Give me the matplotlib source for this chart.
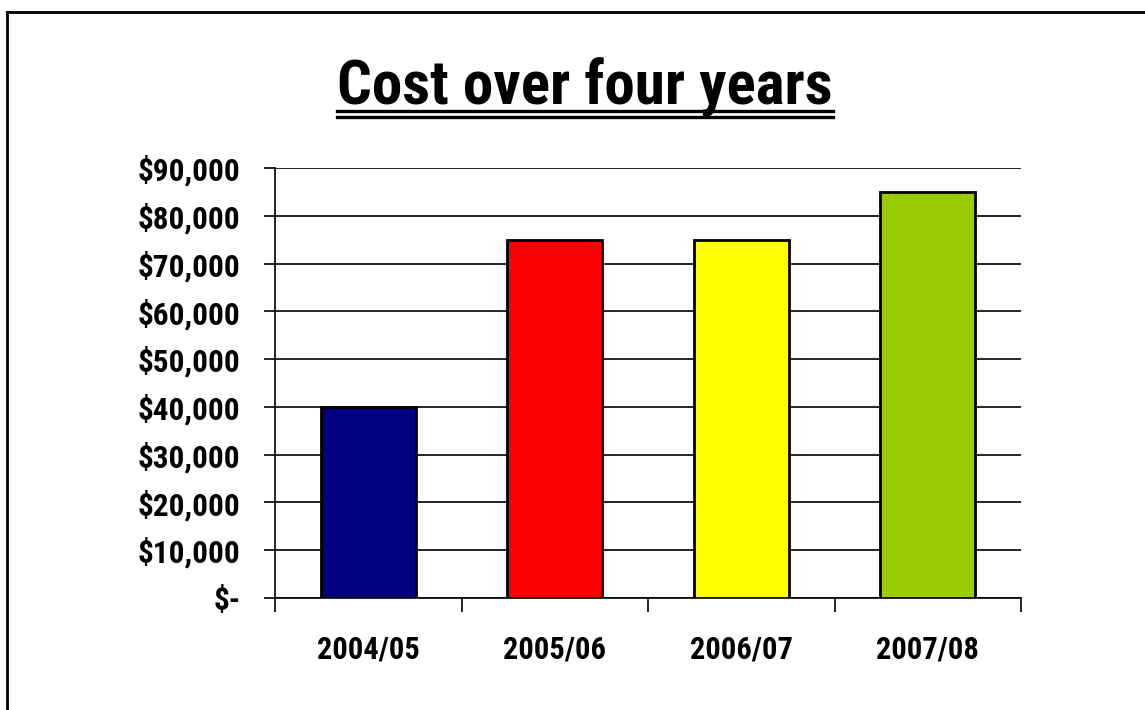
import matplotlib

matplotlib.use("Agg")
import matplotlib.pyplot as plt
from matplotlib.lines import Line2D
from matplotlib.ticker import FuncFormatter, MultipleLocator

years = ["2004/05", "2005/06", "2006/07", "2007/08"]
costs = [40000, 75000, 75000, 85000]
bar_colors = ["#000080", "#FF0000", "#FFFF00", "#99CC00"]

plt.rcParams["font.family"] = ["Roboto Condensed", "PT Sans Narrow", "Liberation Sans", "DejaVu Sans"]
plt.rcParams["font.weight"] = "bold"

W, H = 1145, 710
fig = plt.figure(figsize=(W / 100, H / 100), dpi=100)

# outer frame: only the top and left edges fall inside the canvas
fig.add_artist(Line2D([7 / W, 7 / W], [0, 1 - 12 / H], transform=fig.transFigure,
                      color="black", linewidth=2))
fig.add_artist(Line2D([7 / W, 1], [1 - 12 / H, 1 - 12 / H], transform=fig.transFigure,
                      color="black", linewidth=2))

ax = fig.add_axes([275 / W, (H - 598) / H, (1021 - 275) / W, (598 - 168) / H])

x = list(range(len(years)))
ax.bar(x, costs, width=0.51, color=bar_colors, edgecolor="black", linewidth=2, zorder=3)

ax.set_xlim(-0.5, len(years) - 0.5)
ax.set_ylim(0, 90000)
ax.yaxis.set_major_locator(MultipleLocator(10000))
ax.yaxis.set_major_formatter(FuncFormatter(lambda v, _: "$-" if v == 0 else f"${v:,.0f}"))
ax.grid(axis="y", color="black", linewidth=1.2, zorder=1)

# category ticks sit on the boundaries between bars
ax.set_xticks([i - 0.5 for i in range(len(years) + 1)])
ax.set_xticklabels([])
ax.set_xticks(x, minor=True)
ax.set_xticklabels(years, minor=True)
ax.tick_params(axis="x", which="major", length=10, width=1.2, direction="out")
ax.tick_params(axis="x", which="minor", length=0, pad=26, labelsize=22)
ax.tick_params(axis="y", length=8, width=1.2, pad=17, labelsize=22.5)

for side in ("top", "right"):
    ax.spines[side].set_visible(False)
for side in ("left", "bottom"):
    ax.spines[side].set_linewidth(1.2)

title = fig.text(585 / W, 1 - 86 / H, "Cost over four years", ha="center", va="center",
                 fontsize=44, fontweight="bold")

# double underline beneath the title
fig.canvas.draw()
bb = title.get_window_extent().transformed(fig.transFigure.inverted())
for y_px in (111, 116.5):
    fig.add_artist(Line2D([bb.x0, bb.x1], [1 - y_px / H, 1 - y_px / H],
                          transform=fig.transFigure, color="black", linewidth=2.4))

fig.savefig("out.png", dpi=100)
